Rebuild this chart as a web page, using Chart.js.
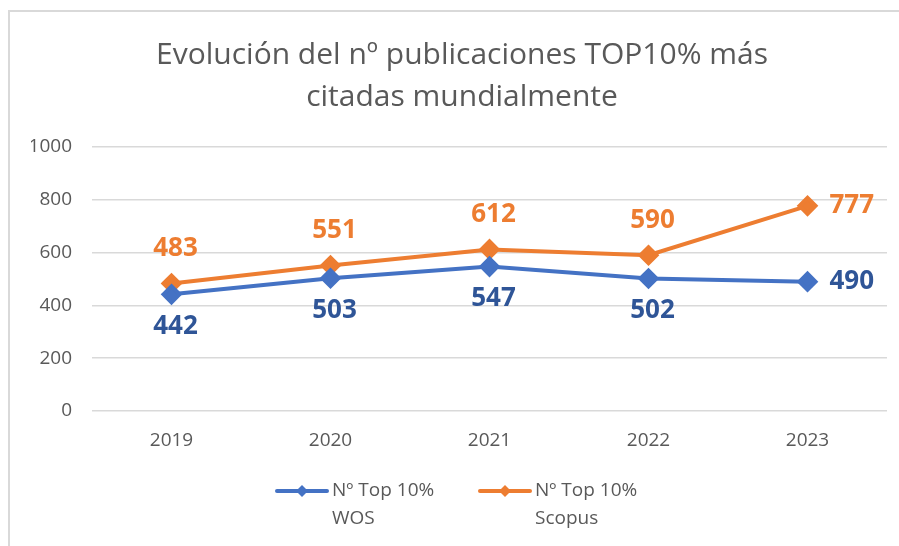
<!DOCTYPE html>
<html>
<head>
<meta charset="utf-8">
<script src="https://cdn.jsdelivr.net/npm/chart.js@4.4.1/dist/chart.umd.min.js"></script>
<style>
  html, body { margin: 0; padding: 0; background: #fff; overflow: hidden; }
  #frame {
    position: absolute; left: 8px; top: 10px; width: 1000px; height: 600px;
    border-top: 2px solid #d9d9d9; border-left: 2px solid #d9d9d9;
  }
  #wrap { position: absolute; left: 0; top: 0; width: 899px; height: 546px; }
</style>
</head>
<body>
<div id="frame"></div>
<div id="wrap"><canvas id="chart" width="899" height="546"></canvas></div>
<script>
const years = ['2019', '2020', '2021', '2022', '2023'];
const wosValues = [442, 503, 547, 502, 490];
const scopusValues = [483, 551, 612, 590, 777];
const seriesNames = ['Nº Top 10% WOS', 'Nº Top 10% Scopus'];
const yTicks = [0, 200, 400, 600, 800, 1000];
const chartTitle = ['Evolución del nº publicaciones TOP10% más', 'citadas mundialmente'];

const FONT = "'Open Sans', sans-serif";
const GREY = '#595959';

// value labels: above/below the point, to the right for the last one
const valueLabels = {
    id: 'valueLabels',
    afterDatasetsDraw(chart) {
        const ctx = chart.ctx;
        ctx.save();
        ctx.font = 'bold 26px ' + FONT;
        ctx.textBaseline = 'middle';
        chart.data.datasets.forEach((ds, di) => {
            const meta = chart.getDatasetMeta(di);
            meta.data.forEach((pt, i) => {
                ctx.fillStyle = ds.labelColor;
                const last = i === meta.data.length - 1;
                if (last) {
                    ctx.textAlign = 'left';
                    ctx.fillText(ds.data[i], pt.x + 22, pt.y);
                } else {
                    ctx.textAlign = 'center';
                    ctx.fillText(ds.data[i], pt.x + 4, pt.y + (di === 1 ? -35 : 32));
                }
            });
        });
        ctx.restore();
    }
};

// legend under the chart with wrapped labels
const bottomLegend = {
    id: 'bottomLegend',
    afterDraw(chart) {
        const ctx = chart.ctx;
        const starts = [277, 480];
        ctx.save();
        chart.data.datasets.forEach((ds, di) => {
            const x = starts[di], y = 491;
            ctx.strokeStyle = ds.borderColor;
            ctx.lineWidth = 4;
            ctx.lineCap = 'round';
            ctx.beginPath();
            ctx.moveTo(x, y);
            ctx.lineTo(x + 50, y);
            ctx.stroke();
            ctx.fillStyle = ds.borderColor;
            ctx.beginPath();
            ctx.moveTo(x + 25, y - 6);
            ctx.lineTo(x + 31, y);
            ctx.lineTo(x + 25, y + 6);
            ctx.lineTo(x + 19, y);
            ctx.closePath();
            ctx.fill();
            const cut = ds.label.lastIndexOf(' ');
            const lines = [ds.label.slice(0, cut), ds.label.slice(cut + 1)];
            ctx.fillStyle = GREY;
            ctx.font = '19px ' + FONT;
            ctx.textAlign = 'left';
            ctx.textBaseline = 'middle';
            lines.forEach((t, k) => ctx.fillText(t, x + 55, y + k * 28));
        });
        ctx.restore();
    }
};

new Chart(document.getElementById('chart'), {
    type: 'line',
    data: {
        labels: years,
        datasets: [
            {
                label: seriesNames[0],
                data: wosValues,
                borderColor: '#4472c4',
                backgroundColor: '#4472c4',
                labelColor: '#2f5597',
                borderWidth: 4,
                pointStyle: 'rectRot',
                pointRadius: 8,
                pointHoverRadius: 8,
                tension: 0
            },
            {
                label: seriesNames[1],
                data: scopusValues,
                borderColor: '#ed7d31',
                backgroundColor: '#ed7d31',
                labelColor: '#ed7d31',
                borderWidth: 4,
                pointStyle: 'rectRot',
                pointRadius: 8,
                pointHoverRadius: 8,
                tension: 0
            }
        ]
    },
    options: {
        responsive: false,
        animation: false,
        events: [],
        layout: { padding: { left: 31, right: 6, top: 0, bottom: 94 } },
        plugins: {
            legend: { display: false },
            tooltip: { enabled: false },
            title: {
                display: true,
                text: chartTitle,
                color: GREY,
                font: { family: FONT, size: 30, weight: 'normal', lineHeight: 42 / 30 },
                padding: { top: 34, bottom: 29 }
            }
        },
        scales: {
            x: {
                offset: true,
                grid: { display: false, drawTicks: false },
                border: { display: false },
                ticks: { color: GREY, font: { family: FONT, size: 19 }, padding: 18 },
                afterFit: s => { s.height = 41; }
            },
            y: {
                min: 0,
                max: 1000,
                afterBuildTicks: s => { s.ticks = yTicks.map(v => ({ value: v })); },
                grid: { color: '#d9d9d9', lineWidth: 1.5, drawTicks: false },
                border: { display: false },
                ticks: {
                    color: GREY,
                    font: { family: FONT, size: 19 },
                    padding: 20,
                    callback: v => String(v)
                },
                afterFit: s => { s.width = 61; }
            }
        }
    },
    plugins: [valueLabels, bottomLegend]
});
</script>
</body>
</html>
